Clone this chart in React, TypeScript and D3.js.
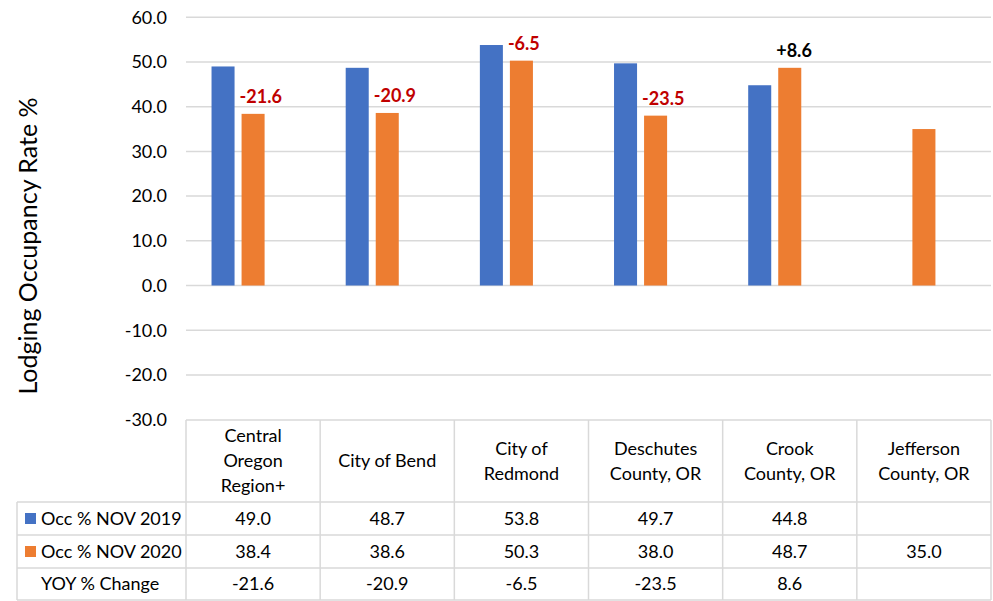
import React from "react";
import * as d3 from "d3";

const categories = ["Central Oregon Region+", "City of Bend", "City of Redmond", "Deschutes County, OR", "Crook County, OR", "Jefferson County, OR"];
const headerLines = [["Central", "Oregon", "Region+"], ["City of Bend"], ["City of", "Redmond"], ["Deschutes", "County, OR"], ["Crook", "County, OR"], ["Jefferson", "County, OR"]];
const occ2019: (number | null)[] = [49.0, 48.7, 53.8, 49.7, 44.8, null];
const occ2020: (number | null)[] = [38.4, 38.6, 50.3, 38.0, 48.7, 35.0];
const yoyChange: (number | null)[] = [-21.6, -20.9, -6.5, -23.5, 8.6, null];
const seriesNames = ["Occ % NOV 2019", "Occ % NOV 2020", "YOY % Change"];
const seriesColors = ["#4472C4", "#ED7D31", "none"];
const yTicks = [60, 50, 40, 30, 20, 10, 0, -10, -20, -30];
const yTitle = "Lodging Occupancy Rate %";

const FONT = "Lato, 'Open Sans', sans-serif";
const GRID = "#d9d9d9";

export default function App() {
  const W = 993, H = 601;
  const plotL = 186, plotR = 991;
  const y = d3.scaleLinear().domain([-30, 60]).range([419.6, 17.3]);
  const x = d3.scaleBand<string>().domain(categories).range([plotL, plotR]).padding(0);
  const xs = d3.scaleBand<string>().domain(seriesNames).range([0, x.bandwidth()]).paddingInner(7 / 30).paddingOuter(0.85);
  const series = [occ2019, occ2020, yoyChange];

  const tableTop = 420;
  const rowY = [502, 535, 568, 600];
  const tableLeft = 17;

  const fmt = (v: number | null) => (v == null ? "" : v.toFixed(1));
  const rowValues = [occ2019, occ2020, yoyChange];

  return (
    <svg width={W} height={H} style={{ position: "absolute", left: 0, top: 0, background: "#fff" }} fontFamily={FONT}>
      {/* gridlines */}
      {yTicks.filter((t) => t > -30).map((t) => (
        <line key={"g" + t} x1={plotL} x2={plotR} y1={y(t)} y2={y(t)} stroke={GRID} strokeWidth={1.5} />
      ))}
      {/* y tick labels */}
      {yTicks.map((t) => (
        <text key={"t" + t} x={167} y={y(t)} dy="0.35em" textAnchor="end" fontSize={18} fill="#000">
          {t.toFixed(1)}
        </text>
      ))}
      {/* y title */}
      <text transform={`translate(37,246) rotate(-90)`} textAnchor="middle" fontSize={25} fill="#000">
        {yTitle}
      </text>
      {/* bars */}
      {series.map((vals, si) =>
        seriesColors[si] === "none"
          ? null
          : vals.map((v, ci) =>
              v == null ? null : (
                <rect
                  key={`b${si}-${ci}`}
                  x={(x(categories[ci]) as number) + (xs(seriesNames[si]) as number)}
                  y={y(Math.max(0, v))}
                  width={xs.bandwidth()}
                  height={Math.abs(y(v) - y(0))}
                  fill={seriesColors[si]}
                />
              )
            )
      )}
      {/* change labels */}
      {yoyChange.map((v, ci) => {
        if (v == null) return null;
        const top = occ2020[ci] as number;
        const bx = (x(categories[ci]) as number) + (xs(seriesNames[1]) as number);
        return (
          <text key={"l" + ci} x={bx - 2} y={y(top) - 11} fontSize={18} fontWeight="bold" fill={v < 0 ? "#C00000" : "#000"}>
            {v > 0 ? "+" + v.toFixed(1) : v.toFixed(1)}
          </text>
        );
      })}
      {/* table lines */}
      <line x1={plotL} x2={plotR} y1={tableTop} y2={tableTop} stroke={GRID} strokeWidth={1.5} />
      {rowY.map((ry) => (
        <line key={"r" + ry} x1={tableLeft} x2={plotR} y1={ry} y2={ry} stroke={GRID} strokeWidth={1.5} />
      ))}
      <line x1={tableLeft} x2={tableLeft} y1={rowY[0]} y2={rowY[3]} stroke={GRID} strokeWidth={1.5} />
      {categories.map((c) => (
        <line key={"v" + c} x1={x(c) as number} x2={x(c) as number} y1={tableTop} y2={rowY[3]} stroke={GRID} strokeWidth={1.5} />
      ))}
      <line x1={plotR} x2={plotR} y1={tableTop} y2={rowY[3]} stroke={GRID} strokeWidth={1.5} />
      {/* header cells */}
      {categories.map((c, ci) => {
        const lines = headerLines[ci];
        const cx = (x(c) as number) + x.bandwidth() / 2;
        const cy = (tableTop + rowY[0]) / 2;
        return (
          <text key={"h" + c} textAnchor="middle" fontSize={18} fill="#000">
            {lines.map((ln, li) => (
              <tspan key={li} x={cx} y={cy + (li - (lines.length - 1) / 2) * 25} dy="0.35em">
                {ln}
              </tspan>
            ))}
          </text>
        );
      })}
      {/* row labels and values */}
      {seriesNames.map((name, ri) => {
        const cy = (rowY[ri] + rowY[ri + 1]) / 2;
        return (
          <g key={"row" + ri}>
            {seriesColors[ri] !== "none" && <rect x={25} y={cy - 5.5} width={11} height={11} fill={seriesColors[ri]} />}
            <text x={41} y={cy} dy="0.35em" fontSize={18} fill="#000">
              {name}
            </text>
            {rowValues[ri].map((v, ci) => (
              <text key={ci} x={(x(categories[ci]) as number) + x.bandwidth() / 2} y={cy} dy="0.35em" textAnchor="middle" fontSize={18} fill="#000">
                {fmt(v)}
              </text>
            ))}
          </g>
        );
      })}
    </svg>
  );
}
